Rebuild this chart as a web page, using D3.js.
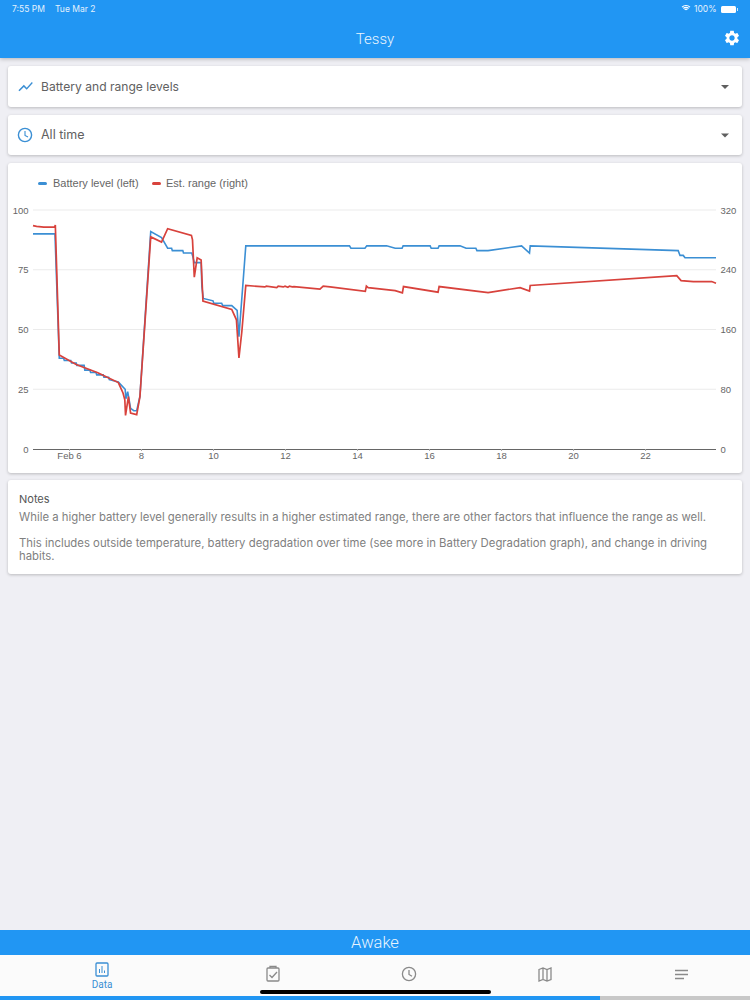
<!DOCTYPE html>
<html>
<head>
  <meta charset="utf-8">
  <title>Tessy</title>
  <script src="https://cdn.jsdelivr.net/npm/d3@7/dist/d3.min.js"></script>
  <style>
    html, body { margin: 0; padding: 0; background: #efeff4; }
    svg { display: block; }
    .card { fill: #fff; filter: drop-shadow(0 1px 1.5px rgba(0,0,0,.22)); }
    .ui { font-family: Inter, "Open Sans", sans-serif; fill: #616161; }
    .lbl { font-family: "Liberation Sans", sans-serif; font-size: 11px; fill: #666; }
    .axis text { font-family: "Liberation Sans", sans-serif; font-size: 9.5px; fill: #666; }
  </style>
</head>
<body>
<svg id="page" width="750" height="1000"></svg>
<script>
// days in February, battery %
var batteryDays = [5, 5.61, 5.73, 5.85, 5.87, 6.05, 6.07, 6.2, 6.22, 6.42, 6.44, 6.58, 6.6, 6.75, 6.77, 6.95, 6.97, 7.1, 7.12, 7.37, 7.56, 7.58, 7.63, 7.71, 7.8, 7.88, 7.97, 8.27, 8.57, 8.74, 8.85, 8.87, 9.16, 9.18, 9.41, 9.43, 9.48, 9.67, 9.69, 9.73, 10, 10.02, 10.24, 10.27, 10.52, 10.67, 10.72, 10.91, 13.79, 13.83, 14.22, 14.27, 14.82, 15.06, 15.25, 15.28, 16.03, 16.06, 16.25, 16.28, 16.86, 17.03, 17.3, 17.33, 17.64, 18.57, 18.79, 18.81, 22.92, 22.97, 23.06, 23.11, 23.97];
var batteryLevels = [90, 90, 38, 38, 37, 37, 36, 36, 35, 35, 33, 33, 32, 32, 31, 31, 30, 30, 29, 28, 25, 21, 24, 17, 16, 16, 22, 91, 88.5, 84, 84, 83, 83, 82, 82, 81, 78, 78, 68, 63, 62, 61, 61, 60, 60, 58, 47, 85, 85, 84, 84, 85, 85, 84, 84, 85, 85, 84, 84, 85, 85, 84, 84, 83, 83, 85, 82, 85, 83, 81, 81, 80, 80];

// days in February, estimated range in miles
var rangeDays = [5, 5.1, 5.3, 5.6, 5.62, 5.73, 6.2, 6.8, 7.37, 7.5, 7.55, 7.57, 7.65, 7.71, 7.88, 7.97, 8.27, 8.57, 8.74, 9.4, 9.43, 9.48, 9.56, 9.67, 9.72, 10.52, 10.65, 10.72, 10.8, 10.91, 11.44, 11.48, 11.77, 11.81, 11.95, 12, 12.08, 12.12, 12.2, 12.25, 12.97, 13.06, 13.25, 14.23, 14.26, 14.31, 15.06, 15.26, 15.29, 16.25, 16.28, 17.64, 18.53, 18.79, 18.81, 22.88, 23, 23.34, 23.85, 23.97];
var rangeMiles = [299, 298, 297, 297, 300, 126, 113, 102, 89, 75, 66, 45, 70, 48, 46, 70, 284, 277, 295, 286, 280, 230, 256, 253, 198, 187, 173, 122, 157, 219, 217, 218, 216, 218, 217, 218, 216.5, 218, 217, 217.5, 214, 218, 217, 211, 218, 216, 212, 209, 217.5, 210, 217.5, 209.5, 216, 211.5, 219, 232, 225.5, 224, 224.2, 222];

var dayDomain = [5, 23.97];
var dayTicks = [6, 8, 10, 12, 14, 16, 18, 20, 22];
var batteryTicks = [0, 25, 50, 75, 100];
var rangeTicks = [0, 80, 160, 240, 320];
var legendNames = ["Battery level (left)", "Est. range (right)"];
var tabLabels = ["Data"];
var noteLines = [
  "While a higher battery level generally results in a higher estimated range, there are other factors that influence the range as well.",
  "This includes outside temperature, battery degradation over time (see more in Battery Degradation graph), and change in driving",
  "habits."
];

var BLUE = "#2196f3", LINE_BLUE = "#3b8fd4", LINE_RED = "#d8423c", GREY = "#8a8a8a";
var svg = d3.select("#page");

// header
svg.append("rect").attr("width", 750).attr("height", 58).attr("fill", BLUE)
  .style("filter", "drop-shadow(0 1px 2px rgba(0,0,0,.25))");
svg.append("text").attr("x", 12).attr("y", 12).attr("fill", "#e3f1fd")
  .attr("font-family", "Inter").attr("font-size", 8.5).text("7:55 PM");
svg.append("text").attr("x", 55).attr("y", 12).attr("fill", "#e3f1fd")
  .attr("font-family", "Inter").attr("font-size", 8.5).text("Tue Mar 2");
svg.append("text").attr("x", 694).attr("y", 12).attr("fill", "#e3f1fd")
  .attr("font-family", "Inter").attr("font-size", 8.5).text("100%");
svg.append("text").attr("x", 375).attr("y", 44).attr("text-anchor", "middle").attr("fill", "#e8f4fe")
  .attr("font-family", "Roboto").attr("font-weight", 300).attr("font-size", 15).text("Tessy");

// wifi + battery glyphs
var wifi = svg.append("g").attr("transform", "translate(686,11)").attr("fill", "none").attr("stroke", "#fff").attr("stroke-width", 1.2);
[5.5, 3.6, 1.8].forEach(function(r) {
  wifi.append("path").attr("d", d3.arc()({innerRadius: r, outerRadius: r, startAngle: -0.8, endAngle: 0.8}));
});
svg.append("rect").attr("x", 721).attr("y", 6).attr("width", 15).attr("height", 7).attr("rx", 1.5).attr("fill", "#fff");
svg.append("rect").attr("x", 737).attr("y", 8).attr("width", 1).attr("height", 3).attr("fill", "#cfe6fb");

svg.append("path").attr("transform", "translate(723,29) scale(.75)").attr("fill", "#fff")
  .attr("d", "M19.14 12.94c.04-.3.06-.61.06-.94 0-.32-.02-.64-.07-.94l2.03-1.58c.18-.14.23-.41.12-.61l-1.92-3.32c-.12-.22-.37-.29-.59-.22l-2.39.96c-.5-.38-1.03-.7-1.62-.94l-.36-2.54c-.04-.24-.24-.41-.48-.41h-3.84c-.24 0-.43.17-.47.41l-.36 2.54c-.59.24-1.13.57-1.62.94l-2.39-.96c-.22-.08-.47 0-.59.22L2.74 8.87c-.12.21-.08.47.12.61l2.03 1.58c-.05.3-.09.63-.09.94s.02.64.07.94l-2.03 1.58c-.18.14-.23.41-.12.61l1.92 3.32c.12.22.37.29.59.22l2.39-.96c.5.38 1.03.7 1.62.94l.36 2.54c.05.24.24.41.48.41h3.84c.24 0 .44-.17.47-.41l.36-2.54c.59-.24 1.13-.56 1.62-.94l2.39.96c.22.08.47 0 .59-.22l1.92-3.32c.12-.22.07-.47-.12-.61l-2.01-1.58zM12 15.6c-1.98 0-3.6-1.62-3.6-3.6s1.62-3.6 3.6-3.6 3.6 1.62 3.6 3.6-1.62 3.6-3.6 3.6z");

// cards
[[66, 41], [115, 40], [163, 310], [480, 94]].forEach(function(c) {
  svg.append("rect").attr("class", "card").attr("x", 8).attr("y", c[0]).attr("width", 734).attr("height", c[1]).attr("rx", 3);
});

// selector rows
svg.append("path").attr("transform", "translate(17,78) scale(.72)").attr("fill", LINE_BLUE)
  .attr("d", "M3.5 18.49l6-6.01 4 4L22 6.92l-1.41-1.41-7.09 7.97-4-4L2 16.99z");
svg.append("text").attr("class", "ui").attr("x", 41).attr("y", 91).attr("font-size", 12.1).text("Battery and range levels");
svg.append("circle").attr("cx", 25).attr("cy", 135).attr("r", 6.6).attr("fill", "none").attr("stroke", LINE_BLUE).attr("stroke-width", 1.4);
svg.append("path").attr("d", "M25 131V135.5L28 137").attr("fill", "none").attr("stroke", LINE_BLUE).attr("stroke-width", 1.1);
svg.append("text").attr("class", "ui").attr("x", 41).attr("y", 139).attr("font-size", 12.5).text("All time");
[86.5, 135].forEach(function(y) {
  svg.append("path").attr("d", "M721 " + (y - 1.5) + "h8l-4 4z").attr("fill", "#5f5f5f");
});

// chart
var x = d3.scaleLinear().domain(dayDomain).range([33, 716]);
var yLeft = d3.scaleLinear().domain([0, 100]).range([449, 210]);
var yRight = d3.scaleLinear().domain([0, 320]).range([449, 210]);

svg.append("g").selectAll("line").data(batteryTicks.slice(1)).enter().append("line")
  .attr("x1", 33).attr("x2", 716)
  .attr("y1", function(d) { return yLeft(d); }).attr("y2", function(d) { return yLeft(d); })
  .attr("stroke", "#ebebeb").attr("stroke-width", 1);

var xAxis = svg.append("g").attr("class", "axis").attr("transform", "translate(0,449)")
  .call(d3.axisBottom(x).tickValues(dayTicks).tickSize(2).tickPadding(1.5)
    .tickFormat(function(d) { return d === 6 ? "Feb 6" : d; }));
xAxis.select(".domain").attr("stroke", "#666").attr("d", "M33,0.5H716");
xAxis.selectAll("line").attr("stroke", "#aaa");

var leftAxis = svg.append("g").attr("class", "axis").attr("transform", "translate(33,0)")
  .call(d3.axisLeft(yLeft).tickValues(batteryTicks).tickSize(0).tickPadding(4.5));
var rightAxis = svg.append("g").attr("class", "axis").attr("transform", "translate(716,0)")
  .call(d3.axisRight(yRight).tickValues(rangeTicks).tickSize(0).tickPadding(4.5));
leftAxis.select(".domain").remove();
rightAxis.select(".domain").remove();

var batteryLine = d3.line().x(function(d) { return x(d[0]); }).y(function(d) { return yLeft(d[1]); });
var rangeLine = d3.line().x(function(d) { return x(d[0]); }).y(function(d) { return yRight(d[1]); });

svg.append("path").datum(d3.zip(batteryDays, batteryLevels)).attr("d", batteryLine)
  .attr("fill", "none").attr("stroke", LINE_BLUE).attr("stroke-width", 1.6);
svg.append("path").datum(d3.zip(rangeDays, rangeMiles)).attr("d", rangeLine)
  .attr("fill", "none").attr("stroke", LINE_RED).attr("stroke-width", 1.7);

// legend
[[38, 53, LINE_BLUE], [152, 166, LINE_RED]].forEach(function(l, i) {
  svg.append("rect").attr("x", l[0]).attr("y", 182).attr("width", 9).attr("height", 3).attr("rx", 1.5).attr("fill", l[2]);
  svg.append("text").attr("class", "lbl").attr("x", l[1]).attr("y", 187).text(legendNames[i]);
});

// notes
svg.append("text").attr("class", "ui").attr("x", 19).attr("y", 503).attr("font-size", 11).style("fill", "#555").text("Notes");
[[521, 0], [547, 1], [560, 2]].forEach(function(n) {
  svg.append("text").attr("class", "ui").attr("x", 19).attr("y", n[0]).attr("font-size", 11.35).style("fill", "#808080").text(noteLines[n[1]]);
});

// status + tab bar
svg.append("rect").attr("y", 930).attr("width", 750).attr("height", 25).attr("fill", BLUE);
svg.append("text").attr("x", 375).attr("y", 948).attr("text-anchor", "middle").attr("fill", "#e8f4fe")
  .attr("font-family", "Roboto").attr("font-weight", 300).attr("font-size", 16.5).text("Awake");
svg.append("rect").attr("y", 955).attr("width", 750).attr("height", 41).attr("fill", "#fbfbfb");

var tab = svg.append("g").attr("fill", "none").attr("stroke", LINE_BLUE).attr("stroke-width", 1.3);
tab.append("rect").attr("x", 96).attr("y", 963).attr("width", 12).attr("height", 13).attr("rx", 1);
tab.append("path").attr("d", "M99.5 973v-4M102 973v-7M104.5 973v-2.5").attr("stroke-width", 1);
svg.append("text").attr("x", 102).attr("y", 987.5).attr("text-anchor", "middle").attr("fill", LINE_BLUE)
  .attr("font-family", "Roboto").attr("font-size", 10).text(tabLabels[0]);

var tabGrey = svg.append("g").attr("fill", "none").attr("stroke", GREY).attr("stroke-width", 1.3);
tabGrey.append("rect").attr("x", 267).attr("y", 968).attr("width", 12).attr("height", 13).attr("rx", 1);
tabGrey.append("path").attr("d", "M270 968v-1.500h6v1.500M269.500 975l2.500 2.500 5-5.500");
tabGrey.append("circle").attr("cx", 409).attr("cy", 974).attr("r", 6.6);
tabGrey.append("path").attr("d", "M409 970v4.500l3 1.800");
tabGrey.append("path").attr("d", "M539 969.500l4-1.500 4 1.500 4-1.500v11.500l-4 1.500-4-1.500-4 1.500zM543 968v11.500M547 969.500v11.500");
tabGrey.append("path").attr("d", "M675 970.500h13M675 974.500h13M675 978.500h9");

svg.append("rect").attr("x", 260).attr("y", 990).attr("width", 231).attr("height", 4).attr("rx", 2).attr("fill", "#000");
svg.append("rect").attr("y", 996).attr("width", 600).attr("height", 4).attr("fill", BLUE);
svg.append("rect").attr("x", 600).attr("y", 996).attr("width", 150).attr("height", 4).attr("fill", "#c8c8c8");
</script>
</body>
</html>
